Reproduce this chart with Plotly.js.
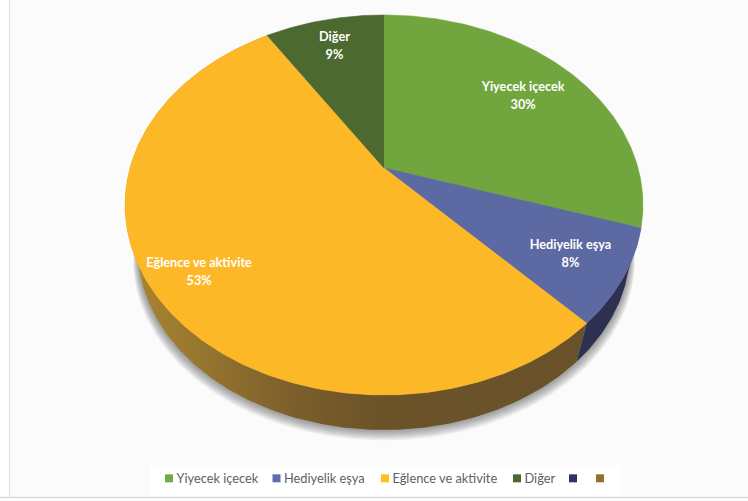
<!DOCTYPE html>
<html>
<head>
<meta charset="utf-8">
<script src="https://cdn.plot.ly/plotly-3.0.1.min.js"></script>
<style>html,body{margin:0;padding:0;background:#fff}#chart{width:748px;height:501px}</style>
</head>
<body>
<div id="chart"></div>
<script>
// ---- data ----
const categories = ['Yiyecek içecek', 'Hediyelik eşya', 'Eğlence ve aktivite', 'Diğer'];
const shares = [30, 8, 53, 9];
const legendNames = ['Yiyecek içecek', 'Hediyelik eşya', 'Eğlence ve aktivite', 'Diğer', ' ', ' '];

// ---- styles ----
const topColors = ['#70a63d', '#5c69a3', '#fdb827', '#4c6a30'];
const legendColors = ['#70ad47', '#5b6eb4', '#ffc01f', '#4c6a30', '#2f3560', '#93712c'];
const labelRadius = [0.734, 0.797, 0.83, 0.804];
const LABEL_GAP = 9, LABEL_DROP = 1.7;

// ---- perspective disc: tilted circle seen from the front ----
const A = 254, B = 182.8, P = 0.1947, WALL_S = 0.95, WALL_D = -46.3;
function rimTop(t, r) {
  const u = r * Math.sin(t), v = r * Math.cos(t), w = 1 + P * v;
  return [A * u / w, B * v / w];
}
function rimLow(t) {
  const p = rimTop(t, 1);
  return [p[0] * WALL_S, p[1] * WALL_S + WALL_D];
}
function arc(fn, a, b) {
  const n = Math.max(8, Math.ceil(Math.abs(b - a) * 80)), out = [];
  for (let i = 0; i <= n; i++) out.push(fn(a + (b - a) * i / n));
  return out;
}
const total = shares.reduce((s, x) => s + x, 0);
const starts = [];
shares.reduce((acc, x, i) => { starts[i] = acc; return acc + x; }, 0);
const ang = p => p / total * 2 * Math.PI;

const traces = [];
// legend keys
legendNames.forEach((name, i) => traces.push({
  type: 'scatter', mode: 'markers', x: [null], y: [null], name: name,
  marker: { symbol: 'square', size: 8, color: legendColors[i] },
  hoverinfo: 'skip', showlegend: true
}));
// soft shadow under the disc
for (let k = 8; k >= 1; k--) {
  const pts = arc(t => { const p = rimLow(t); return [p[0] * (1 + 0.0025 * k), p[1] - k * 1.3]; }, 0, 2 * Math.PI);
  traces.push({
    type: 'scatter', mode: 'lines', x: pts.map(p => p[0]), y: pts.map(p => p[1]),
    fill: 'toself', fillcolor: 'rgba(60,60,60,0.07)', line: { width: 0 },
    hoverinfo: 'skip', showlegend: false
  });
}
// side walls (front slices only are visible)
function wall(i, style) {
  const a = ang(starts[i]), b = ang(starts[i] + shares[i]);
  const pts = arc(t => rimTop(t, 1), a, b).concat(arc(rimLow, b, a));
  traces.push(Object.assign({
    type: 'scatter', mode: 'lines', x: pts.map(p => p[0]), y: pts.map(p => p[1]),
    fill: 'toself', line: { width: 0 }, hoverinfo: 'skip', showlegend: false
  }, style));
}
wall(1, { fillcolor: '#2e3052' });
wall(2, {
  fillcolor: '#6b5229',
  fillgradient: {
    type: 'horizontal',
    colorscale: [[0, '#ab872e'], [0.16, '#977630'], [0.37, '#7b5e2a'], [0.56, '#6b5229'], [1, '#69522b']]
  }
});
// top faces
shares.forEach((s, i) => {
  const a = ang(starts[i]), b = ang(starts[i] + s);
  const pts = [[0, 0]].concat(arc(t => rimTop(t, 1), a, b));
  traces.push({
    type: 'scatter', mode: 'lines', x: pts.map(p => p[0]), y: pts.map(p => p[1]),
    fill: 'toself', fillcolor: topColors[i], line: { width: 0.6, color: topColors[i] },
    name: categories[i], hoverinfo: 'skip', showlegend: false
  });
});
// labels
const labelPts = shares.map((s, i) => rimTop(ang(starts[i] + s / 2), labelRadius[i]));
const labelFont = { family: 'Lato, sans-serif', size: 12.7, color: '#ffffff', weight: 700 };
traces.push({
  type: 'scatter', mode: 'text', x: labelPts.map(p => p[0]), y: labelPts.map(p => p[1] + LABEL_GAP - LABEL_DROP),
  text: categories, textposition: 'middle center', textfont: labelFont, hoverinfo: 'skip', showlegend: false
});
traces.push({
  type: 'scatter', mode: 'text', x: labelPts.map(p => p[0]), y: labelPts.map(p => p[1] - LABEL_GAP - LABEL_DROP),
  text: shares.map(s => s + '%'), textposition: 'middle center', textfont: labelFont, hoverinfo: 'skip', showlegend: false
});

const W = 748, H = 501;
const layout = {
  width: W, height: H, margin: { l: 0, r: 0, t: 0, b: 0 },
  paper_bgcolor: '#ffffff', plot_bgcolor: 'rgba(0,0,0,0)',
  xaxis: { range: [-384, 364], visible: false, fixedrange: true },
  yaxis: { range: [-333, 168], visible: false, fixedrange: true },
  showlegend: true,
  legend: {
    orientation: 'h', x: 20 / W, xanchor: 'left', y: (H - 463.5) / H, yanchor: 'top',
    bgcolor: 'rgba(0,0,0,0)', font: { family: 'Lato, sans-serif', size: 12.8, color: '#5f5f5f' }
  },
  shapes: [
    { type: 'rect', xref: 'paper', yref: 'paper', x0: 10 / W, x1: 1, y0: (H - 497) / H, y1: 1, fillcolor: '#fbfbfb', line: { width: 0 }, layer: 'below' },
    { type: 'rect', xref: 'paper', yref: 'paper', x0: 150 / W, x1: 620 / W, y0: (H - 497) / H, y1: (H - 465) / H, fillcolor: '#ffffff', line: { width: 0 }, layer: 'below' },
    { type: 'line', xref: 'paper', yref: 'paper', x0: 9.5 / W, x1: 9.5 / W, y0: (H - 497) / H, y1: 1, line: { color: '#dedede', width: 1 }, layer: 'below' },
    { type: 'line', xref: 'paper', yref: 'paper', x0: 0, x1: 1, y0: (H - 497.5) / H, y1: (H - 497.5) / H, line: { color: '#dcdcdc', width: 1.5 }, layer: 'below' }
  ]
};

Plotly.newPlot('chart', traces, layout, { displayModeBar: false, staticPlot: true }).then(gd => {
  // tighten the legend spacing to the reference's compact key layout
  const keyX = [169, 276.5, 385, 517, 573, 600];
  const legendLeft = 20;
  const box = gd.querySelector('.legend .scrollbox');
  if (box) box.removeAttribute('clip-path');
  const lg = gd.querySelector('.legend');
  if (lg) lg.removeAttribute('clip-path');
  gd.querySelectorAll('.legend .traces').forEach((g, i) => {
    const m = /translate\(([^,]+),\s*([^)]+)\)/.exec(g.getAttribute('transform') || '');
    const y = m ? m[2] : 0;
    g.setAttribute('transform', 'translate(' + (keyX[i] - legendLeft - 20) + ',' + y + ')');
    const t = g.querySelector('.legendtext');
    if (t) t.setAttribute('x', 27.5);
  });
});
</script>
</body>
</html>
